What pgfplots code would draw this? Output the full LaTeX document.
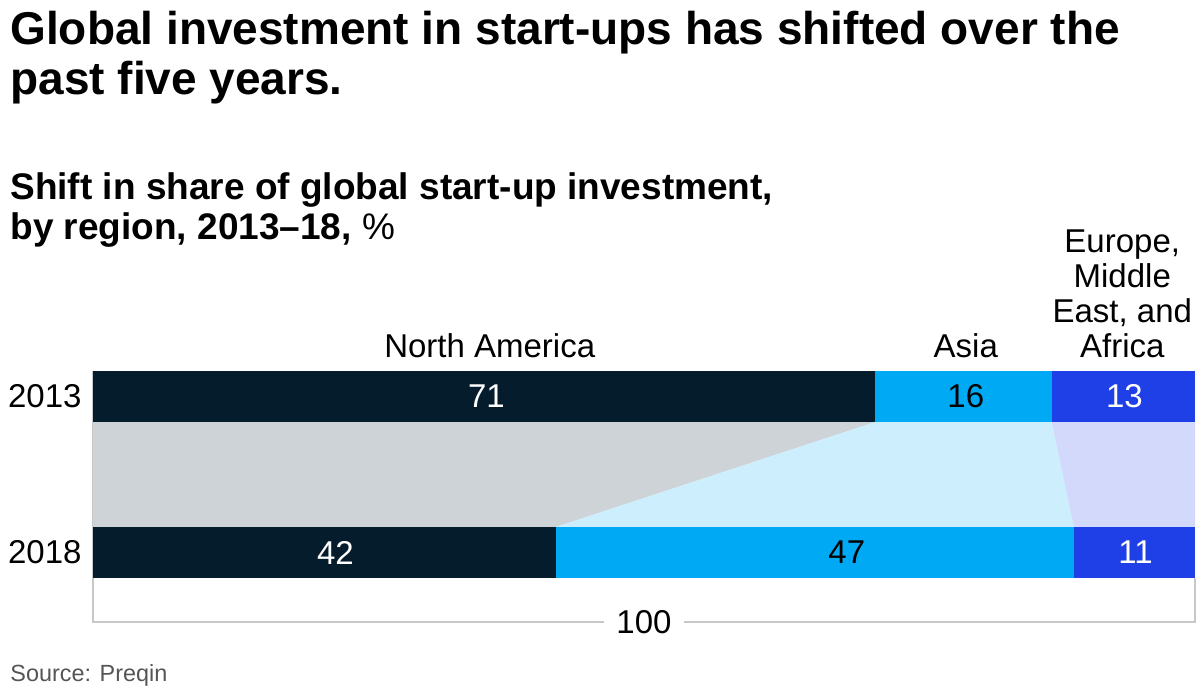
\documentclass[border=0pt]{standalone}
\usepackage{pgfplots}
\pgfplotsset{compat=1.18}
\usepackage{fontspec}
\setmainfont{Liberation Sans}
\definecolor{navy}{HTML}{051C2C}
\definecolor{cyanb}{HTML}{00A9F4}
\definecolor{blueb}{HTML}{1F40E6}
\definecolor{grayc}{HTML}{CDD3D6}
\definecolor{cyanc}{HTML}{CCEEFD}
\definecolor{bluec}{HTML}{D3D9FA}
\definecolor{bracket}{HTML}{C8C8C8}
\definecolor{srcgray}{HTML}{555555}
\begin{document}
\begin{tikzpicture}
\path[use as bounding box] (0,0) rectangle (600pt,348pt);
\begin{axis}[
  at={(46.5pt,59pt)}, anchor=south west,
  scale only axis, width=551pt, height=103.5pt,
  xmin=0, xmax=100, ymin=0, ymax=207,
  hide axis, clip=false,
]
% bracket
\draw[bracket, line width=0.6pt] (0,207) -- (0,-44) -- (100,-44) -- (100,0);
\node[fill=white, inner xsep=6pt, font=\fontsize{16.5}{19}\selectfont] at (50,-44) {100};
% connectors
\addplot[fill=grayc, draw=none] coordinates {(0,156) (71,156) (42,51) (0,51)} -- cycle;
\addplot[fill=cyanc, draw=none] coordinates {(71,156) (87,156) (89,51) (42,51)} -- cycle;
\addplot[fill=bluec, draw=none] coordinates {(87,156) (100,156) (100,51) (89,51)} -- cycle;
% 2013 bars
\addplot[fill=navy, draw=none] coordinates {(0,156) (71,156) (71,207) (0,207)} -- cycle;
\addplot[fill=cyanb, draw=none] coordinates {(71,156) (87,156) (87,207) (71,207)} -- cycle;
\addplot[fill=blueb, draw=none] coordinates {(87,156) (100,156) (100,207) (87,207)} -- cycle;
% 2018 bars
\addplot[fill=navy, draw=none] coordinates {(0,0) (42,0) (42,51) (0,51)} -- cycle;
\addplot[fill=cyanb, draw=none] coordinates {(42,0) (89,0) (89,51) (42,51)} -- cycle;
\addplot[fill=blueb, draw=none] coordinates {(89,0) (100,0) (100,51) (89,51)} -- cycle;
% value labels
\begin{scope}[every node/.style={font=\fontsize{16.5}{19}\selectfont}]
\node[white] at (35.7,181.5) {71};
\node[black] at (79.2,181.5) {16};
\node[white] at (93.6,181.5) {13};
\node[white] at (22,25.5) {42};
\node[black] at (68.4,25.5) {47};
\node[white] at (94.6,25.5) {11};
\node[anchor=base] at (36,221) {North America};
\node[anchor=base] at (79.2,221) {Asia};
\node[anchor=base, align=center, font=\fontsize{16.5}{17.5}\selectfont] at (93.4,221) {Europe,\\Middle\\East, and\\Africa};
\end{scope}
\end{axis}
\node[anchor=east, font=\fontsize{16.5}{19}\selectfont] at (44.3pt,150pt) {2013};
\node[anchor=east, font=\fontsize{16.5}{19}\selectfont] at (44.3pt,72pt) {2018};
\node[anchor=base west, align=left, inner sep=0pt, font=\fontsize{23}{25}\bfseries\selectfont] at (5pt,300.5pt) {Global investment in start-ups has shifted over the\\past five years.};
\node[anchor=base west, align=left, inner sep=0pt, font=\fontsize{18.5}{20}\bfseries\selectfont] at (5pt,228pt) {Shift in share of global start-up investment,\\by region, 2013--18, {\mdseries\%}};
\node[anchor=base west, inner sep=0pt, text=srcgray, font=\fontsize{11.7}{13}\selectfont] at (5pt,7pt) {Source: Preqin};
\end{tikzpicture}
\end{document}
